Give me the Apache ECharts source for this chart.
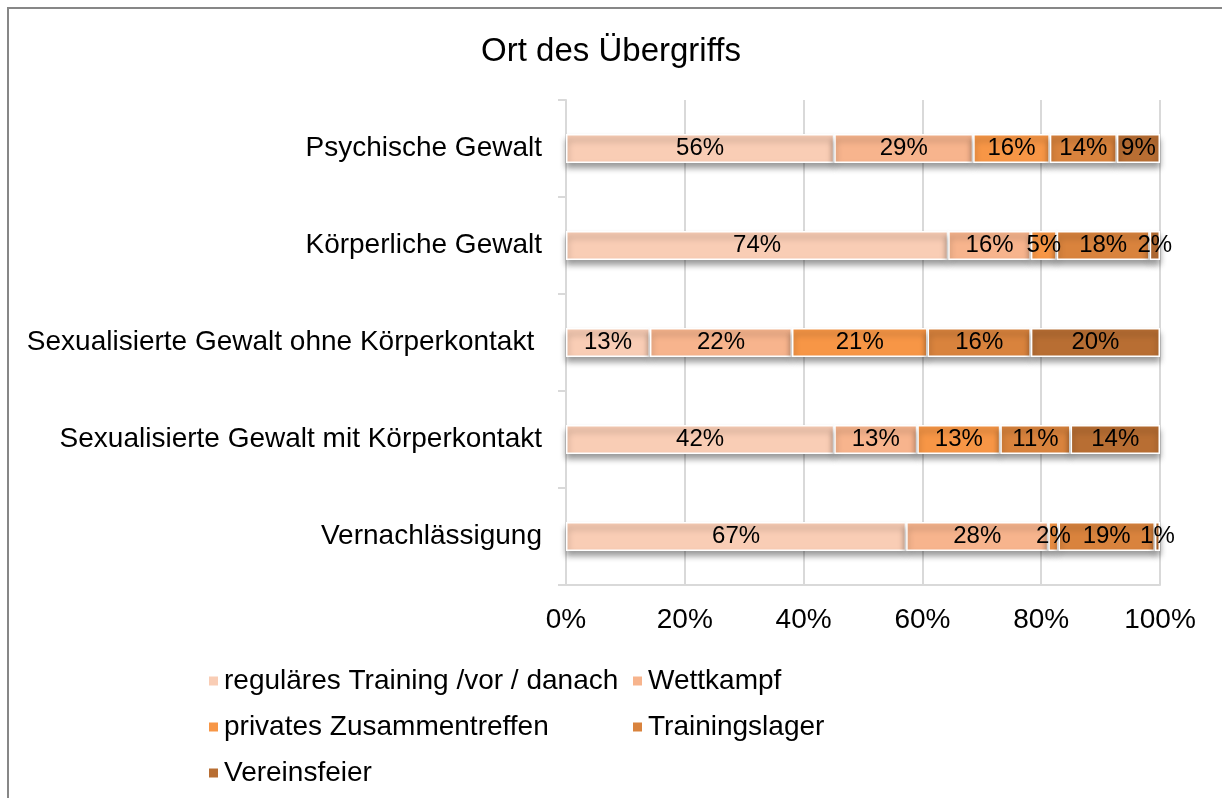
<!DOCTYPE html>
<html>
<head>
<meta charset="utf-8">
<script src="https://cdn.jsdelivr.net/npm/echarts@6/dist/echarts.min.js"></script>
<style>
html,body{margin:0;padding:0;background:#fff;}
#chart{width:1222px;height:798px;}
</style>
</head>
<body>
<div id="chart"></div>
<script>
const categories = ["Psychische Gewalt", "Körperliche Gewalt", "Sexualisierte Gewalt ohne Körperkontakt ", "Sexualisierte Gewalt mit Körperkontakt", "Vernachlässigung"];
const seriesNames = ["reguläres Training /vor / danach", "Wettkampf", "privates Zusammentreffen", "Trainingslager", "Vereinsfeier"];
const training = [56, 74, 13, 42, 67];
const wettkampf = [29, 16, 22, 13, 28];
const privat = [16, 5, 21, 13, 2];
const lager = [14, 18, 16, 11, 19];
const feier = [9, 2, 20, 14, 1];
const xTicks = [0, 20, 40, 60, 80, 100];
const colors = ["#F9CDB5", "#F7B48D", "#F79646", "#D9833D", "#B86E33"];

const FONT = 'Liberation Sans, Arial, sans-serif';
const raw = [training, wettkampf, privat, lager, feier];
const totals = categories.map((c, j) => raw.reduce((s, arr) => s + arr[j], 0));

const series = raw.map((arr, i) => ({
  name: seriesNames[i],
  type: 'bar',
  stack: 'total',
  barWidth: 29,
  data: arr.map((v, j) => ({ value: v / totals[j] * 100, raw: v })),
  itemStyle: {
    color: colors[i],
    borderColor: '#ffffff',
    borderWidth: 1.5,
    shadowColor: 'rgba(0,0,0,0.4)',
    shadowBlur: 6,
    shadowOffsetY: 5
  },
  label: {
    show: true,
    position: 'inside',
    color: '#000',
    fontFamily: FONT,
    fontSize: 24,
    formatter: p => p.data.raw + '%'
  },
  emphasis: { disabled: true }
}));

const legendText = { fontSize: 28, color: '#000', lineHeight: 28, padding: [0, 0, 0, 0], fontFamily: FONT };

const chart = echarts.init(document.getElementById('chart'), null, { renderer: 'canvas' });
chart.setOption({
  animation: false,
  backgroundColor: '#fff',
  textStyle: { fontFamily: FONT },
  title: {
    text: 'Ort des Übergriffs',
    left: 'center',
    top: 30,
    textStyle: { fontSize: 33, fontWeight: 'normal', color: '#000', fontFamily: FONT }
  },
  graphic: [{
    type: 'rect',
    shape: { x: 8, y: 8, width: 1240, height: 820 },
    style: { fill: null, stroke: '#878787', lineWidth: 2 },
    silent: true
  }],
  color: colors,
  grid: { left: 566, right: 62, top: 100, bottom: 213, containLabel: false },
  xAxis: {
    type: 'value',
    min: 0, max: 100, interval: 20,
    axisLine: { show: true, lineStyle: { color: '#D9D9D9', width: 2 } },
    axisTick: { show: false },
    splitLine: { show: true, lineStyle: { color: '#D9D9D9', width: 2 } },
    axisLabel: {
      color: '#000', fontSize: 28, margin: 21,
      fontFamily: FONT,
      formatter: v => xTicks.includes(v) ? v + '%' : ''
    }
  },
  yAxis: {
    type: 'category',
    inverse: true,
    data: categories,
    axisLine: { show: true, lineStyle: { color: '#D9D9D9', width: 2 } },
    axisTick: { show: true, length: 8, lineStyle: { color: '#D9D9D9', width: 2 } },
    axisLabel: { color: '#000', fontSize: 28, margin: 24, fontFamily: FONT }
  },
  legend: [{
    left: 202, top: 662,
    orient: 'vertical',
    itemWidth: 11, itemHeight: 11, itemGap: 18,
    icon: 'rect',
    data: [seriesNames[0], seriesNames[2], seriesNames[4]],
    textStyle: legendText
  }, {
    left: 626, top: 662,
    orient: 'vertical',
    itemWidth: 11, itemHeight: 11, itemGap: 18,
    icon: 'rect',
    data: [seriesNames[1], seriesNames[3]],
    textStyle: legendText
  }],
  series: series
});
</script>
</body>
</html>
